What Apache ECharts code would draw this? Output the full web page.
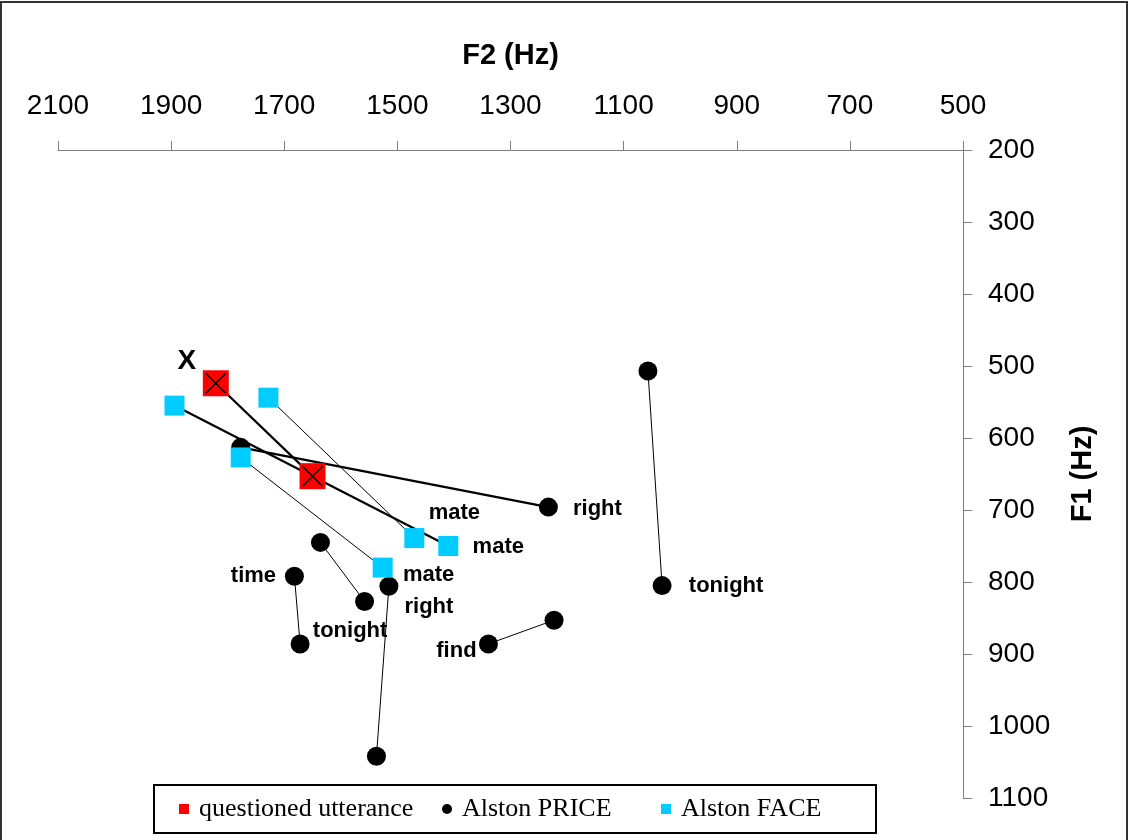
<!DOCTYPE html>
<html>
<head>
<meta charset="utf-8">
<script src="https://cdn.jsdelivr.net/npm/echarts@6/dist/echarts.min.js"></script>
<style>
  body { margin: 0; background: #fff; }
  #wrap { position: relative; width: 1133px; height: 840px; overflow: hidden; }
  #chart { width: 1133px; height: 840px; }
  #frame {
    position: absolute; left: 0; top: 1px; width: 1128px; height: 860px;
    border: 2px solid #333; box-sizing: border-box; pointer-events: none;
  }
</style>
</head>
<body>
<div id="wrap">
  <div id="chart"></div>
  <div id="frame"></div>
</div>
<script>
// F2 / F1 pairs (Hz), each pair joined by a line
const questionedPairs = [
  [[1821, 524], [1650, 653]],
];
const questionedWords = [["X", ""]];

const pricePairs = [
  [[1777, 613], [1233, 696]],
  [[1057, 507], [1032, 805]],
  [[1636, 745], [1558, 827]],
  [[1682, 792], [1672, 886]],
  [[1515, 806], [1537, 1042]],
  [[1339, 886], [1223, 853]],
];
const priceWords = [
  ["", "right"],
  ["", "tonight"],
  ["", ""],
  ["time", "tonight"],
  ["right", ""],
  ["find", ""],
];

const facePairs = [
  [[1894, 555], [1410, 750]],
  [[1728, 544], [1470, 739]],
  [[1777, 627], [1526, 780]],
];
const faceWords = [
  ["", "mate"],
  ["", "mate"],
  ["", "mate"],
];

// which connecting lines are drawn heavier
const thickLines = { questioned: [0], price: [0], face: [0] };

const xTicks = [2100, 1900, 1700, 1500, 1300, 1100, 900, 700, 500];
const yTicks = [200, 300, 400, 500, 600, 700, 800, 900, 1000, 1100];

// label offsets (text centre relative to marker centre), keyed by word + F2
const labelOffsets = {
  "X@1821": [-29, -22],
  "right@1233": [49, 2],
  "tonight@1032": [64, 0],
  "time@1682": [-41, 0],
  "tonight@1672": [50, -13],
  "right@1515": [40, 21],
  "find@1339": [-32, 7],
  "mate@1410": [50, 1],
  "mate@1470": [40, -25],
  "mate@1526": [46, 7],
};

const labelFont = {
  fontFamily: "Liberation Sans", fontWeight: "bold", fontSize: 22, color: "#000",
};

function points(pairs, words) {
  const out = [];
  pairs.forEach((pair, i) => {
    pair.forEach((pt, j) => {
      const w = words[i][j];
      const item = { value: pt };
      if (w) {
        const off = labelOffsets[w + "@" + pt[0]] || [0, 0];
        item.label = Object.assign({
          show: true, formatter: w, position: "inside",
          offset: off, align: "center", verticalAlign: "middle",
        }, labelFont, w === "X" ? { fontSize: 28 } : {});
      }
      out.push(item);
    });
  });
  return out;
}

function lines(pairs, thick) {
  return pairs.map((pair, i) => ({
    type: "line",
    data: pair,
    symbol: "none",
    silent: true,
    z: 1,
    lineStyle: { color: "#000", width: thick.indexOf(i) >= 0 ? 2.2 : 1 },
  }));
}

const series = [].concat(
  lines(pricePairs, thickLines.price),
  lines(facePairs, thickLines.face),
  lines(questionedPairs, thickLines.questioned),
  [
    {
      name: "Alston PRICE", type: "scatter", symbol: "circle", symbolSize: 19,
      itemStyle: { color: "#000", opacity: 1 }, z: 3,
      data: points(pricePairs, priceWords),
    },
    {
      name: "Alston FACE", type: "scatter", symbol: "rect", symbolSize: 20,
      itemStyle: { color: "#00CCFF", opacity: 1 }, z: 4,
      data: points(facePairs, faceWords),
    },
    {
      name: "questioned utterance", type: "scatter", symbol: "rect", symbolSize: 26,
      itemStyle: { color: "#FF0000", opacity: 1 }, z: 5,
      data: points(questionedPairs, questionedWords),
    },
    {
      type: "scatter", symbol: "path://M0,0L10,10M10,0L0,10", symbolSize: 20,
      itemStyle: { color: "none", borderColor: "#000", borderWidth: 1.5, opacity: 1 },
      silent: true, z: 6,
      data: questionedPairs.flat(),
    },
  ]
);

const chart = echarts.init(document.getElementById("chart"));
chart.setOption({
  animation: false,
  grid: { left: 58, right: 170, top: 150, bottom: 42 },
  xAxis: {
    type: "value", position: "top", inverse: true, min: 500, max: 2100,
    name: "F2 (Hz)", nameLocation: "middle", nameGap: 80,
    nameTextStyle: { fontFamily: "Liberation Sans", fontWeight: "bold", fontSize: 29, color: "#000" },
    axisLine: { lineStyle: { color: "#808080", width: 1 } },
    axisTick: { show: true, length: 9, customValues: xTicks, lineStyle: { color: "#808080" } },
    axisLabel: {
      customValues: xTicks, margin: 30, formatter: v => String(v),
      fontFamily: "Liberation Sans", fontSize: 28, color: "#000",
    },
    splitLine: { show: false },
  },
  yAxis: {
    type: "value", position: "right", inverse: true, min: 200, max: 1100, interval: 100,
    name: "F1 (Hz)", nameLocation: "middle", nameGap: 105, nameRotate: 90,
    nameTextStyle: { fontFamily: "Liberation Sans", fontWeight: "bold", fontSize: 29, color: "#000" },
    axisLine: { lineStyle: { color: "#808080", width: 1 } },
    axisTick: { show: true, length: 9, lineStyle: { color: "#808080" } },
    axisLabel: {
      margin: 25, fontFamily: "Liberation Sans", fontSize: 28, color: "#000",
      formatter: v => (yTicks.indexOf(v) >= 0 ? String(v) : ""),
    },
    splitLine: { show: false },
  },
  legend: {
    left: 154, top: 785,
    orient: "horizontal",
    itemWidth: 20, itemHeight: 10, itemGap: 0,
    symbolKeepAspect: true,
    borderColor: "#000", borderWidth: 2,
    padding: [10, 45, 10, 25],
    textStyle: { fontFamily: "Liberation Serif", fontSize: 26, color: "#000", lineHeight: 28 },
    data: [
      { name: "questioned utterance", icon: "path://M0,0h10v10h-10z", textStyle: { width: 243 } },
      { name: "Alston PRICE", icon: "circle", textStyle: { width: 199 } },
      { name: "Alston FACE", icon: "path://M0,0h10v10h-10z", textStyle: { width: 150 } },
    ],
    selectedMode: false,
  },
  series: series,
});
</script>
</body>
</html>
